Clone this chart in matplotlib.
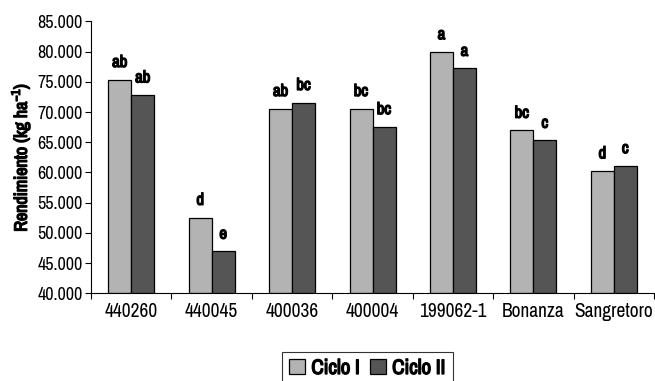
import matplotlib
matplotlib.use("Agg")
import matplotlib.pyplot as plt
import matplotlib.patheffects as pe
import numpy as np

# Data
genotipos = ["440260", "440045", "400036", "400004", "199062-1", "Bonanza", "Sangretoro"]
ciclo_1 = [75.35, 52.55, 70.55, 70.55, 79.95, 66.95, 60.25]
ciclo_2 = [72.80, 46.95, 71.55, 67.55, 77.20, 65.30, 61.10]
letras_1 = ["ab", "d", "ab", "bc", "a", "bc", "d"]
letras_2 = ["ab", "e", "bc", "bc", "a", "c", "c"]
yticks = [40, 45, 50, 55, 60, 65, 70, 75, 80, 85]

plt.rcParams["font.family"] = ["Archivo Narrow", "Liberation Sans", "DejaVu Sans"]
# the narrow font has no bold face, so thicken it with a stroke
bold = [pe.withStroke(linewidth=1.0, foreground="black")]

fig = plt.figure(figsize=(6.55, 3.81), dpi=100)
ax = fig.add_axes([0.139, 0.230, 0.8595, 0.714])

x = np.arange(len(genotipos))
w = 0.286
b1 = ax.bar(x - w / 2, np.array(ciclo_1) - 40, w, bottom=40, color="#b3b3b3",
            edgecolor="black", linewidth=0.9, label="Ciclo I")
b2 = ax.bar(x + w / 2, np.array(ciclo_2) - 40, w, bottom=40, color="#555555",
            edgecolor="black", linewidth=0.9, label="Ciclo II")

# significance letters above each bar
for xs, vals, letras in [(x - w / 2, ciclo_1, letras_1), (x + w / 2, ciclo_2, letras_2)]:
    for xi, v, t in zip(xs, vals, letras):
        ax.annotate(t, (xi, v), xytext=(0, 7), textcoords="offset points",
                    ha="center", va="bottom", fontsize=12, path_effects=bold)

ax.set_xlim(-0.5, len(genotipos) - 0.5)
ax.set_ylim(40, 85)
ax.set_yticks(yticks)
ax.set_yticklabels(["{:d}.000".format(t) for t in yticks], fontsize=13)
ax.set_xticks(x)
ax.set_xticklabels(genotipos, fontsize=14)
ax.tick_params(axis="x", length=0, pad=6)
ax.set_xticks(np.arange(len(genotipos) + 1) - 0.5, minor=True)
ax.tick_params(axis="x", which="minor", length=4, direction="out", width=0.8)
ax.tick_params(axis="y", length=4, width=0.8, pad=2)

for s in ["top", "right"]:
    ax.spines[s].set_visible(False)
ax.spines["left"].set_linewidth(0.8)
ax.spines["bottom"].set_linewidth(0.8)

ax.set_ylabel("Rendimiento (kg ha$^{\\mathregular{-1}}$)", fontsize=13, labelpad=4,
              path_effects=bold)

leg = fig.legend(handles=[b1, b2], loc="upper center", bbox_to_anchor=(0.561, 0.077),
                 ncol=2, frameon=True, fancybox=False, edgecolor="black",
                 prop={"size": 15}, handlelength=0.75, handleheight=0.75,
                 handletextpad=0.3, columnspacing=0.5, borderpad=0.35, borderaxespad=0)
leg.get_frame().set_linewidth(0.8)
for t in leg.get_texts():
    t.set_path_effects(bold)

fig.savefig("out.png", dpi=100)
